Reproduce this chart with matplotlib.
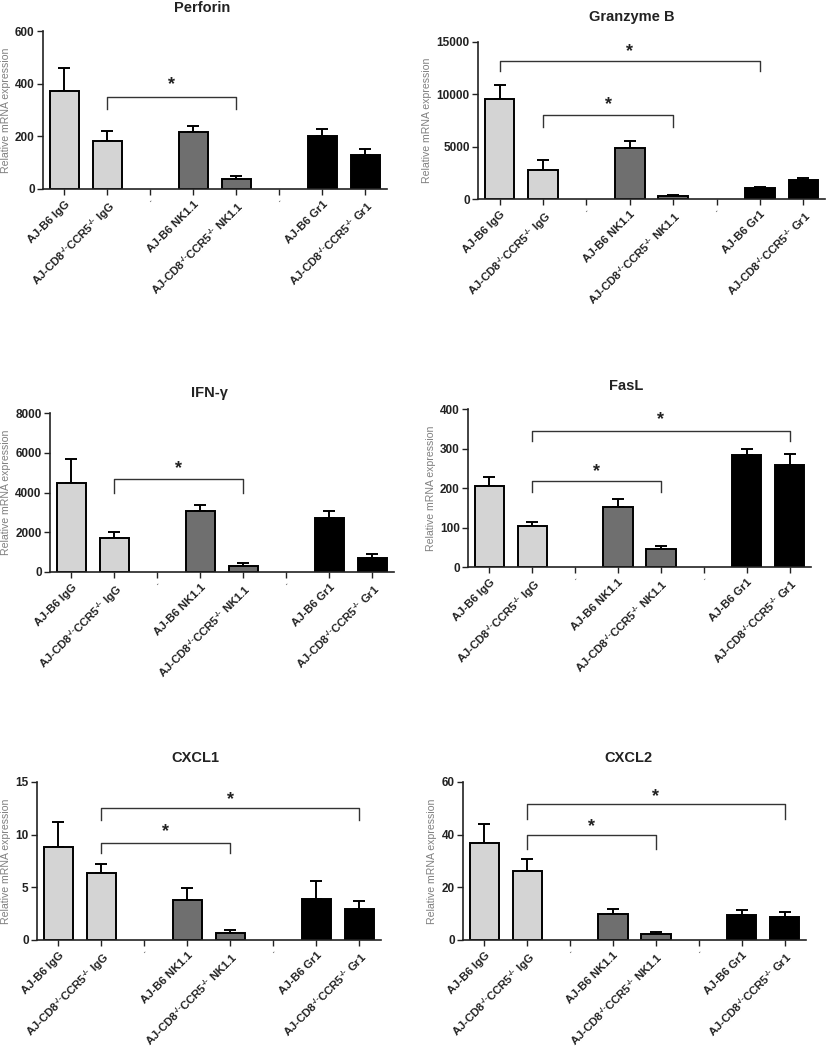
import matplotlib
matplotlib.use("Agg")
import matplotlib.pyplot as plt

plt.rcParams['font.family'] = ['Liberation Sans', 'DejaVu Sans']
plt.rcParams['mathtext.fontset'] = 'custom'
plt.rcParams['mathtext.rm'] = 'Liberation Sans:bold'
plt.rcParams['mathtext.bf'] = 'Liberation Sans:bold'
plt.rcParams['mathtext.default'] = 'bf'

categories = ["AJ-B6 IgG", r"AJ-CD8$^{\text{-/-}}$CCR5$^{\text{-/-}}$ IgG", "-",
              "AJ-B6 NK1.1", r"AJ-CD8$^{\text{-/-}}$CCR5$^{\text{-/-}}$ NK1.1", "-",
              "AJ-B6 Gr1", r"AJ-CD8$^{\text{-/-}}$CCR5$^{\text{-/-}}$ Gr1"]
bar_colors = ["#d4d4d4", "#d4d4d4", None, "#6f6f6f", "#6f6f6f", None, "#000000", "#000000"]

titles = ["Perforin", "Granzyme B", "IFN-γ", "FasL", "CXCL1", "CXCL2"]

perforin_mean = [372, 182, 0, 216, 38, 0, 203, 130]
perforin_err  = [89, 38, 0, 24, 11, 0, 25, 23]
granzyme_mean = [9550, 2800, 0, 4870, 255, 0, 1050, 1850]
granzyme_err  = [1370, 890, 0, 640, 160, 0, 100, 130]
ifn_mean = [4500, 1700, 0, 3080, 300, 0, 2700, 710]
ifn_err  = [1210, 290, 0, 270, 150, 0, 370, 190]
fasl_mean = [204, 104, 0, 153, 46, 0, 284, 259]
fasl_err  = [23, 11, 0, 20, 6, 0, 14, 26]
cxcl1_mean = [8.85, 6.35, 0, 3.76, 0.66, 0, 3.85, 2.9]
cxcl1_err  = [2.35, 0.85, 0, 1.2, 0.3, 0, 1.74, 0.83]
cxcl2_mean = [37.0, 26.3, 0, 9.85, 2.3, 0, 9.35, 8.6]
cxcl2_err  = [7.1, 4.4, 0, 1.75, 0.9, 0, 2.05, 2.0]

means = [perforin_mean, granzyme_mean, ifn_mean, fasl_mean, cxcl1_mean, cxcl2_mean]
errs = [perforin_err, granzyme_err, ifn_err, fasl_err, cxcl1_err, cxcl2_err]
ymaxes = [600, 15000, 8000, 400, 15, 60]
ysteps = [200, 5000, 2000, 100, 5, 20]

# brackets: (from index, to index, top y, drop y, star y)
brackets = [
    [(1, 4, 349, 302, 395)],
    [(0, 6, 13150, 12200, 14100), (1, 4, 8000, 6900, 9000)],
    [(1, 4, 4665, 3960, 5220)],
    [(1, 7, 344, 318, 372), (1, 4, 218, 189, 242)],
    [(1, 7, 12.54, 11.37, 13.36), (1, 4, 9.24, 8.3, 10.3)],
    [(1, 7, 51.5, 45.9, 54.3), (1, 4, 40.0, 34.7, 43.2)],
]

# axes pixel boxes (left, right, top, bottom) and title center (x, y)
boxes = [(43, 387, 31, 189), (478, 825, 42, 199), (50, 394, 413, 572),
         (468, 811, 409, 567), (37, 381, 782, 940), (463, 806, 782, 940)]
title_pos = [(202, 8), (632, 17), (209, 393), (626, 386), (195, 758), (628, 758)]

W, H = 828, 1050
fig = plt.figure(figsize=(W / 100, H / 100), dpi=100)

for k in range(6):
    l, r, t, b = boxes[k]
    ax = fig.add_axes([l / W, 1 - b / H, (r - l) / W, (b - t) / H])
    x = list(range(len(categories)))
    for i in x:
        if bar_colors[i] is None:
            continue
        ax.bar(i, means[k][i], width=0.68, color=bar_colors[i], edgecolor='black',
               linewidth=1.4, zorder=2)
        ax.errorbar(i, means[k][i], yerr=[[0], [errs[k][i]]], fmt='none',
                    ecolor='black', elinewidth=1.4, capsize=4.5, capthick=1.4, zorder=1)
    for (a, c, ytop, ydrop, ystar) in brackets[k]:
        ax.plot([a, a, c, c], [ydrop, ytop, ytop, ydrop], color='#333333', lw=1.0,
                clip_on=False)
        ax.text((a + c) / 2, ystar, "*", ha='center', va='center', fontsize=13,
                fontweight='bold', color='#222222')
    ax.set_xlim(-0.5, 7.5)
    ax.set_ylim(0, ymaxes[k])
    ax.set_yticks(range(0, int(ymaxes[k]) + 1, ysteps[k]))
    ax.set_xticks(x)
    ax.set_xticklabels(categories, rotation=45, ha='right', rotation_mode='anchor',
                       fontsize=8.2, fontweight='bold', color='#222222')
    for lab in ax.get_xticklabels():
        if lab.get_text() == "-":
            lab.set_fontsize(4)
    ax.tick_params(axis='y', labelsize=8.5, length=4, width=1.0, colors='#222222', pad=2)
    ax.tick_params(axis='x', length=4, width=1.0, colors='#222222', pad=3)
    for lab in ax.get_yticklabels():
        lab.set_fontweight('bold')
    ax.spines['top'].set_visible(False)
    ax.spines['right'].set_visible(False)
    ax.spines['left'].set_linewidth(1.2)
    ax.spines['bottom'].set_linewidth(1.2)
    ax.spines['left'].set_color('#222222')
    ax.spines['bottom'].set_color('#222222')
    ax.set_ylabel("Relative mRNA expression", fontsize=7.6, color='#808080', labelpad=3)
    tx, ty = title_pos[k]
    fig.text(tx / W, 1 - ty / H, titles[k], ha='center', va='center', fontsize=10.5,
             fontweight='bold', color='#222222')

fig.savefig("out.png", dpi=100)
